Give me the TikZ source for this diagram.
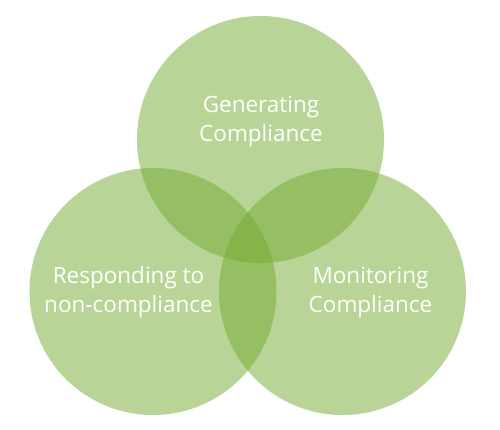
\documentclass[tikz,border=0pt]{standalone}
\usepackage{fontspec}
\setmainfont{Open Sans}
\definecolor{vgreen}{RGB}{117,171,49}
\begin{document}
\begin{tikzpicture}[x=1pt,y=-1pt,
  venn/.style={circle, draw=none, fill=vgreen, fill opacity=0.5, minimum size=247pt, inner sep=0pt},
  lbl/.style={text=white, align=center, anchor=base, font=\fontsize{22.5}{29}\selectfont}]
\useasboundingbox[fill=white] (0,0) rectangle (500,430);
\node[venn] (gen) at (260.5,139.5) {};
\node[venn] (resp) at (153,291.5) {};
\node[venn] (mon) at (342.5,291.5) {};
\node[lbl] (tgen) at (261,142) {Generating\\Compliance};
\node[lbl] (tresp) at (128.5,312) {Responding to\\non-compliance};
\node[lbl] (tmon) at (370.5,312) {Monitoring\\Compliance};
\end{tikzpicture}
\end{document}
